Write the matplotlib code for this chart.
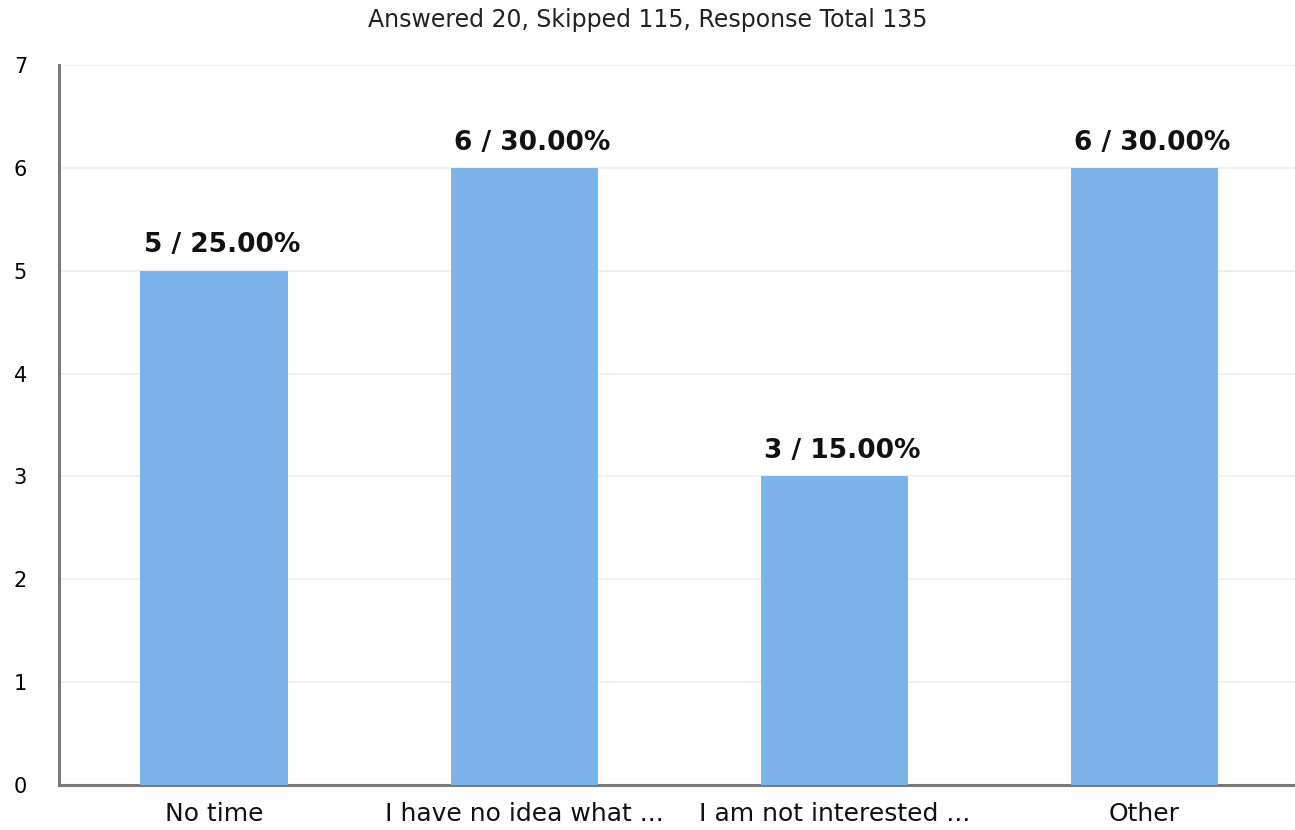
import matplotlib.pyplot as plt

plt.rcParams["font.family"] = ["DejaVu Sans"]

# Survey data
categories = ["No time", "I have no idea what ...", "I am not interested ...", "Other"]
counts = [5, 6, 3, 6]
percents = [25.00, 30.00, 15.00, 30.00]
title = "Answered 20, Skipped 115, Response Total 135"

fig = plt.figure(figsize=(12.95, 8.3), dpi=100)
ax = fig.add_axes([0.0456, 0.0542, 0.958, 0.8675])

x = range(len(categories))
bars = ax.bar(x, counts, width=0.475, color="#7cb4ea", zorder=3)

for xi, c, p in zip(x, counts, percents):
    ax.text(xi + 0.025, c + 0.12, f"{c} / {p:.2f}%", ha="center", va="bottom",
            fontsize=19, fontweight="bold", color="#111111")

ax.set_xlim(-0.5, len(categories) - 0.5)
ax.set_ylim(0, 7)
ax.set_yticks(range(0, 8))
ax.set_xticks(list(x))
ax.set_xticklabels(categories, fontsize=18, color="#111111")
ax.tick_params(axis="y", labelsize=15, length=0, pad=23)
ax.tick_params(axis="x", length=0, pad=12)
ax.grid(axis="y", color="#eeeeee", linewidth=1.2, zorder=0)

for s in ["top", "right"]:
    ax.spines[s].set_visible(False)
for s in ["left", "bottom"]:
    ax.spines[s].set_color("#7a7a7a")
    ax.spines[s].set_linewidth(2.2)

fig.text(0.5, 0.976, title, ha="center", va="center", fontsize=17, color="#222222")

fig.savefig("out.png", dpi=100)
